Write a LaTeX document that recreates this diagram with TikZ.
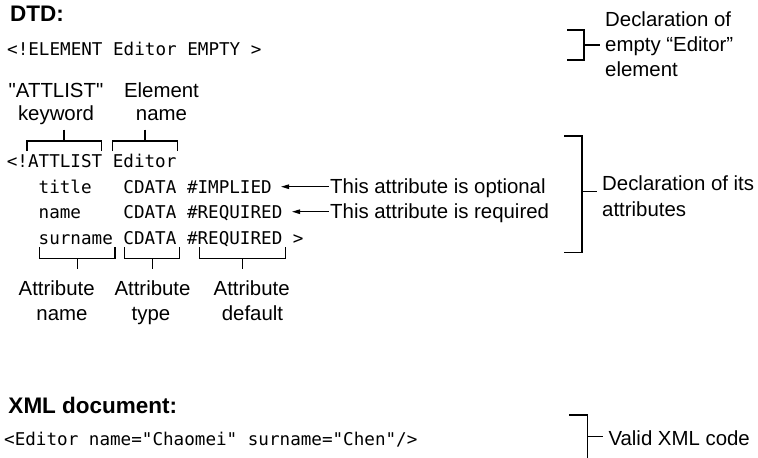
\documentclass[tikz,border=0pt]{standalone}
\usepackage{fontspec}
\setmainfont{Liberation Sans}
\newfontfamily\plainsans{Liberation Sans}% no TeX mapping: keeps straight quotes
\newfontfamily\codefont{DejaVu Sans Mono}
\usetikzlibrary{arrows.meta}

\begin{document}
\begin{tikzpicture}[x=1pt, y=-1pt,
  lbl/.style={font=\fontsize{20.4}{24}\selectfont, inner sep=0pt, anchor=base},
  lblw/.style={lbl, anchor=base west},
  code/.style={font=\codefont\fontsize{17.6}{21}\selectfont, inner sep=0pt, anchor=base west},
  head/.style={font=\bfseries\fontsize{22.5}{27}\selectfont, inner sep=0pt, anchor=base west},
  brk/.style={line width=1.1pt, line cap=butt, line join=miter},
  pointer/.style={line width=1.1pt, -{Triangle[length=8pt,width=4.5pt]}}]

\useasboundingbox (0,0) rectangle (758,458);

% ---------- DTD part ----------
\node[head] (dtd) at (10,21.7) {DTD:};
\node[code] (elem) at (7,55) {<!ELEMENT Editor EMPTY >};

\node[lbl] (kwA) at (56,97.5) {\plainsans "ATTLIST"};
\node[lbl] (kwB) at (56,120.5) {keyword};
\node[lbl] (enA) at (161.5,97.5) {Element};
\node[lbl] (enB) at (161.5,120.5) {name};

% brackets above the ATTLIST line
\draw[brk] (64,129.5) -- (64,141);
\draw[brk] (27,151) -- (27,141) -- (101.7,141) -- (101.7,151);
\draw[brk] (145,129.5) -- (145,141);
\draw[brk] (112.7,151) -- (112.7,141) -- (177.7,141) -- (177.7,151);

\node[code] (attl) at (6.7,167) {<!ATTLIST Editor};
\node[code] (row1) at (6.7,193) {~~~title~~~CDATA \#IMPLIED};
\node[code] (row2) at (6.7,218.5) {~~~name~~~~CDATA \#REQUIRED};
\node[code] (row3) at (6.7,244) {~~~surname CDATA \#REQUIRED >};

% brackets below the attribute rows
\draw[brk] (39.3,247.3) -- (39.3,258.3) -- (115,258.3) -- (115,247.3);
\draw[brk] (77.3,258.3) -- (77.3,269);
\draw[brk] (124.3,247.3) -- (124.3,258.3) -- (179.3,258.3) -- (179.3,247.3);
\draw[brk] (152.3,258.3) -- (152.3,269);
\draw[brk] (199.3,247.3) -- (199.3,258.3) -- (285.7,258.3) -- (285.7,247.3);
\draw[brk] (242.3,258.3) -- (242.3,269);

\node[lbl] (anA) at (56.7,295) {Attribute};
\node[lbl] (anB) at (62,320) {name};
\node[lbl] (atA) at (152.5,295) {Attribute};
\node[lbl] (atB) at (151,320) {type};
\node[lbl] (adA) at (251.7,295) {Attribute};
\node[lbl] (adB) at (252.5,320) {default};

% notes on the two first attributes
\node[lblw] (opt) at (330,193) {This attribute is optional};
\node[lblw] (req) at (330,218.5) {This attribute is required};
\coordinate (optTail) at (328.5,186.7);
\coordinate (optTip) at (281,186.7);
\coordinate (reqTail) at (328.5,211.7);
\coordinate (reqTip) at (292,211.7);
\draw[pointer] (optTail) -- (optTip);
\draw[pointer] (reqTail) -- (reqTip);

% right-hand braces
\draw[brk] (567,30) -- (584,30) -- (584,60) -- (567,60);
\draw[brk] (584,45) -- (600,45);
\node[lblw] (de1) at (605,26.7) {Declaration of};
\node[lblw] (de2) at (605,51.7) {empty “Editor”};
\node[lblw] (de3) at (605,76.7) {element};

\draw[brk] (564,136) -- (582,136) -- (582,252.5) -- (564,252.5);
\draw[brk] (582,191.7) -- (596.5,191.7);
\node[lblw] (da1) at (602,190.7) {Declaration of its};
\node[lblw] (da2) at (602,216.7) {attributes};

% ---------- XML document part ----------
\node[head] (xmlh) at (8.3,413.3) {XML document:};
\node[code] (xml) at (4,445) {<Editor name="Chaomei" surname="Chen"/>};

\draw[brk] (569.3,415) -- (587.7,415) -- (587.7,458);
\draw[brk] (587.7,436.7) -- (603.3,436.7);
\node[lblw] (valid) at (608.3,445) {Valid XML code};
\end{tikzpicture}
\end{document}
